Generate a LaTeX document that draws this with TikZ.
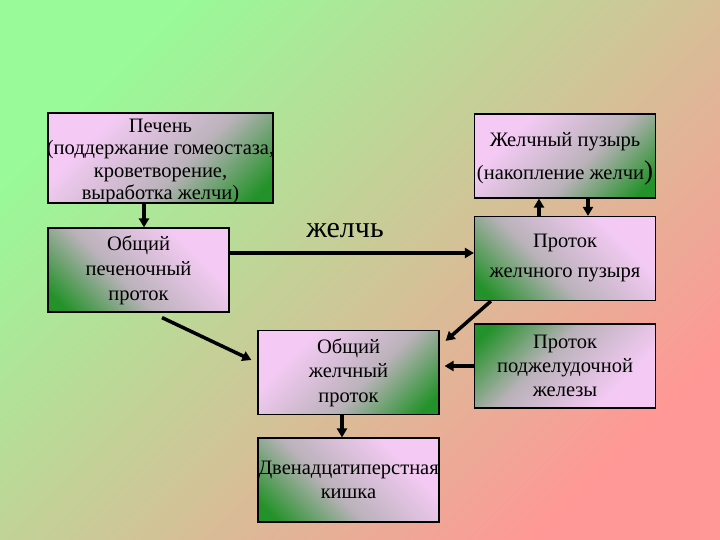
\documentclass[tikz,border=0pt]{standalone}
\usepackage{fontspec}
\setmainfont{Liberation Serif}
\usetikzlibrary{arrows.meta}
\definecolor{bgg}{RGB}{152,250,152}
\definecolor{bgm}{RGB}{214,206,148}
\definecolor{bgr}{RGB}{255,152,150}
\definecolor{pk}{RGB}{244,202,244}
\definecolor{gy}{RGB}{186,178,186}
\definecolor{gn}{RGB}{36,146,42}
\pgfdeclareverticalshading{boxsh}{100bp}{color(0bp)=(gn); color(20bp)=(gn); color(43bp)=(gy); color(70bp)=(pk); color(100bp)=(pk)}
\begin{document}
\begin{tikzpicture}[x=1pt,y=-1pt,
  box/.style={draw=black, line width=1.2pt, shading=boxsh,
    minimum width=181pt, minimum height=84pt, inner sep=0pt, align=center, font=\fontsize{20.5}{24.5}\selectfont},
  tlg/.style={shading angle=45},
  trg/.style={shading angle=-45},
  brg/.style={shading angle=225},
  lbl/.style={align=center, inner sep=0pt},
  arr/.style={line width=3.5pt, -{Triangle[length=9pt,width=10pt]}}]
\useasboundingbox (0,0) rectangle (720,540);
\shade[shading=axis, top color=bgg, middle color=bgm, bottom color=bgr, shading angle=45] (0,0) rectangle (720,540);

\node[box, shade, tlg, minimum width=225pt, minimum height=90pt,
  label={[lbl, yshift=-3.5pt, font=\fontsize{20.5}{22.5}\selectfont]center:{Печень\\(поддержание гомеостаза,\\кроветворение,\\выработка желчи)}}] (liver) at (160.5,158) {};
\node[box, shade, trg, font=\fontsize{20.5}{25}\selectfont] (hep) at (138.5,270) {Общий\\печеночный\\проток};
\node[box, shade, tlg,
  label={[lbl, yshift=-3pt, font=\fontsize{20.5}{33}\selectfont]center:{Желчный пузырь\\(накопление желчи{\fontsize{27}{27}\selectfont)}}}] (gb) at (565,156) {};
\node[box, shade, trg, font=\fontsize{20.5}{30}\selectfont] (gbduct) at (565,258.5) {Проток\\желчного пузыря};
\node[box, shade, tlg] (cbd) at (348.5,372.5) {Общий\\желчный\\проток};
\node[box, shade, brg, font=\fontsize{20.5}{24}\selectfont] (pan) at (565,366) {Проток\\поджелудочной\\железы};
\node[box, shade, trg, font=\fontsize{20.5}{24}\selectfont] (duo) at (348.5,480) {Двенадцатиперстная\\кишка};

\node[font=\fontsize{30}{30}\selectfont] (bile) at (345,231) {желчь};

\draw[arr] ([xshift=-16.5pt]liver.south) -- ([xshift=5.5pt]hep.north);
\draw[arr] ([yshift=17pt]hep.east) -- ([yshift=5.5pt]gbduct.west);
\draw[arr] ([xshift=-26pt]gbduct.north) -- ([xshift=-26pt]gb.south);
\draw[arr] ([xshift=23pt]gb.south) -- ([xshift=23pt]gbduct.north);
\draw[arr] ([xshift=17pt]gbduct.south west) -- ([xshift=6pt,yshift=-11pt]cbd.north east);
\draw[arr] ([xshift=23.5pt,yshift=-5pt]hep.south) -- ([xshift=-6pt,yshift=12.5pt]cbd.west);
\draw[arr] (pan.west) -- ([xshift=5pt,yshift=6.5pt]cbd.east);
\draw[arr] ([xshift=-6.5pt]cbd.south) -- ([xshift=-6.5pt]duo.north);
\end{tikzpicture}
\end{document}
